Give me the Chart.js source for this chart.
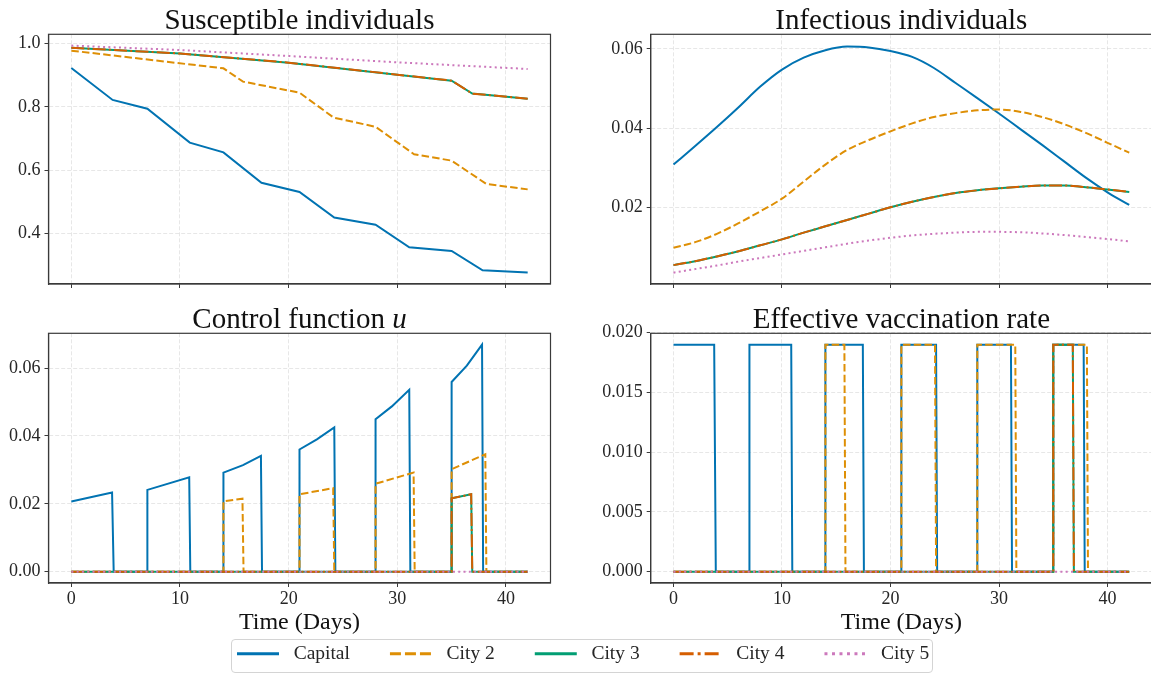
<!DOCTYPE html>
<html><head><meta charset="utf-8">
<script src="https://cdn.jsdelivr.net/npm/chart.js@4.4.1/dist/chart.umd.min.js"></script>
<style>
html,body{margin:0;padding:0;background:#fff;overflow:hidden;width:1151px;height:675px;position:relative;}
canvas{position:absolute;}
#legwrap{position:absolute;left:230.5px;top:639px;width:702.5px;height:33.5px;border:1px solid #d4d4d4;border-radius:4px;overflow:hidden;box-sizing:border-box;background:#fff;}
</style></head><body>
<canvas id="c1" width="560" height="300" style="left:0;top:0"></canvas>
<canvas id="c2" width="590" height="300" style="left:575px;top:0"></canvas>
<canvas id="c3" width="560" height="340" style="left:0;top:300px"></canvas>
<canvas id="c4" width="590" height="340" style="left:575px;top:300px"></canvas>
<div id="legwrap"><canvas id="leg" width="900" height="260" style="left:-34.8px;top:-36.4px"></canvas></div>
<script>
// ---------- data ----------
const SERIES = ['Capital', 'City 2', 'City 3', 'City 4', 'City 5'];
const X_TICKS = [0, 10, 20, 30, 40];

// Susceptible individuals
const sCapitalT = [0, 3.8, 7, 10.9, 14, 17.5, 21, 24.2, 28, 31.1, 35, 37.85, 42];
const sCapitalV = [0.923, 0.822, 0.794, 0.687, 0.656, 0.560, 0.531, 0.450, 0.427, 0.356, 0.344, 0.283, 0.276];
const sCity2T = [0, 14, 15.8, 21, 24.15, 28, 31.55, 35, 38.2, 42];
const sCity2V = [0.978, 0.922, 0.880, 0.845, 0.766, 0.737, 0.650, 0.630, 0.556, 0.539];
const sCity34T = [0, 10, 20, 30, 35, 36.9, 42];
const sCity34V = [0.987, 0.969, 0.940, 0.902, 0.883, 0.842, 0.826];
const sCity5T = [0, 10, 20, 30, 42];
const sCity5V = [0.994, 0.980, 0.961, 0.941, 0.920];
const S_TICKS = [0.4, 0.6, 0.8, 1.0];

// Infectious individuals
const iTime = [0, 2, 4, 6, 8, 10, 12, 14, 16, 18, 20, 22, 24, 26, 28, 30, 32, 34, 36, 38, 40, 42];
const iCapital = [0.0308, 0.0355, 0.0403, 0.0453, 0.0505, 0.0548, 0.0578, 0.0597, 0.0606, 0.0604, 0.0595, 0.0580, 0.0552, 0.0514, 0.0476, 0.0437, 0.0397, 0.0357, 0.0316, 0.0275, 0.0238, 0.0206];
const iCity2 = [0.0098, 0.0112, 0.0133, 0.0160, 0.0190, 0.0222, 0.0265, 0.0308, 0.0345, 0.0370, 0.0392, 0.0412, 0.0428, 0.0438, 0.0445, 0.0447, 0.0441, 0.0428, 0.0410, 0.0388, 0.0363, 0.0338];
const iCity34 = [0.0054, 0.0064, 0.0076, 0.0089, 0.0104, 0.0119, 0.0136, 0.0152, 0.0168, 0.0184, 0.0200, 0.0214, 0.0226, 0.0236, 0.0243, 0.0248, 0.0252, 0.0255, 0.0255, 0.0251, 0.0245, 0.0239];
const iCity5 = [0.0035, 0.0044, 0.0053, 0.0063, 0.0072, 0.0081, 0.0090, 0.0099, 0.0108, 0.0116, 0.0123, 0.0129, 0.0133, 0.0136, 0.0138, 0.0138, 0.0137, 0.0134, 0.0130, 0.0125, 0.0120, 0.0114];
const I_TICKS = [0.02, 0.04, 0.06];

// Control function u
const uCapitalT = [0, 3.75, 3.9, 7, 7, 10.85, 10.95, 14, 14, 15.8, 17.45, 17.55, 21, 21, 22.6, 24.2, 24.3, 28, 28, 29.5, 31.1, 31.2, 35, 35, 36.4, 37.8, 37.9, 42];
const uCapitalV = [0.0207, 0.0233, 0, 0, 0.0241, 0.0278, 0, 0, 0.0292, 0.0314, 0.0341, 0, 0, 0.0360, 0.0390, 0.0425, 0, 0, 0.0449, 0.0487, 0.0536, 0, 0, 0.0559, 0.0607, 0.0669, 0, 0];
const uCity2T = [0, 14, 14, 15.75, 15.85, 21, 21, 24.1, 24.2, 28, 28, 31.5, 31.6, 35, 35, 38.1, 38.2, 42];
const uCity2V = [0, 0, 0.0207, 0.0215, 0, 0, 0.0228, 0.0246, 0, 0, 0.0259, 0.0292, 0, 0, 0.0302, 0.0346, 0, 0];
const uCity34T = [0, 35, 35, 36.8, 36.9, 42];
const uCity34V = [0, 0, 0.0216, 0.0228, 0, 0];
const uCity5T = [0, 42];
const uCity5V = [0, 0];
const U_TICKS = [0, 0.02, 0.04, 0.06];

// Effective vaccination rate
const vCapitalT = [0, 3.75, 3.9, 7, 7, 10.85, 10.95, 14, 14, 17.45, 17.55, 21, 21, 24.2, 24.3, 28, 28, 31.1, 31.2, 35, 35, 37.8, 37.9, 42];
const vCapitalV = [0.019, 0.019, 0, 0, 0.019, 0.019, 0, 0, 0.019, 0.019, 0, 0, 0.019, 0.019, 0, 0, 0.019, 0.019, 0, 0, 0.019, 0.019, 0, 0];
const vCity2T = [0, 14, 14, 15.75, 15.85, 21, 21, 24.1, 24.2, 28, 28, 31.5, 31.6, 35, 35, 38.1, 38.2, 42];
const vCity2V = [0, 0, 0.019, 0.019, 0, 0, 0.019, 0.019, 0, 0, 0.019, 0.019, 0, 0, 0.019, 0.019, 0, 0];
const vCity34T = [0, 35, 35, 36.8, 36.9, 42];
const vCity34V = [0, 0, 0.019, 0.019, 0, 0];
const vCity5T = [0, 42];
const vCity5V = [0, 0];
const V_TICKS = [0, 0.005, 0.010, 0.015, 0.020];

// ---------- styles ----------
const COLORS = ['#0173b2', '#de8f05', '#029e73', '#d55e00', '#cc78bc'];
const DASHES = [[], [7.5, 3.2], [], [13, 3.2, 2, 3.2], [2, 3.3]];
const LEG_DASHES = [[], [11, 4], [], [14, 4, 3, 4], [3, 4.5]];
const FONT = 'Liberation Serif';
const TXT = '#262626';
const GRID = 'rgba(200,200,200,0.55)';
const SPINE = '#3a3a3a';

function mkDatasets(times, values, smooth) {
  return SERIES.map((name, i) => ({
    label: name,
    data: times[i].map((t, k) => ({x: t, y: values[i][k]})),
    borderColor: COLORS[i],
    backgroundColor: COLORS[i],
    borderDash: DASHES[i],
    borderWidth: 2,
    pointRadius: 0,
    fill: false,
    tension: 0,
    cubicInterpolationMode: smooth ? 'monotone' : 'default',
    order: SERIES.length - i
  }));
}

const framePlugin = {
  id: 'frame',
  afterDraw(chart) {
    const a = chart.chartArea, ctx = chart.ctx;
    ctx.save();
    ctx.strokeStyle = SPINE;
    ctx.lineWidth = 1.2;
    ctx.setLineDash([]);
    ctx.strokeRect(a.left, a.top, a.right - a.left, a.bottom - a.top);
    ctx.restore();
  }
};

const titlePlugin = {
  id: 'panelTitle',
  afterDraw(chart, args, opts) {
    const ctx = chart.ctx, a = chart.chartArea;
    ctx.save();
    ctx.fillStyle = '#111';
    ctx.textBaseline = 'alphabetic';
    ctx.textAlign = 'left';
    const fonts = opts.parts.map(p => (p.italic ? 'italic ' : '') + '29px "' + FONT + '"');
    let total = 0;
    opts.parts.forEach((p, k) => { ctx.font = fonts[k]; total += ctx.measureText(p.text).width; });
    let x = (a.left + a.right) / 2 - total / 2;
    const y = a.top - 5;
    opts.parts.forEach((p, k) => { ctx.font = fonts[k]; ctx.fillText(p.text, x, y); x += ctx.measureText(p.text).width; });
    ctx.restore();
  }
};

function makePanel(id, c) {
  new Chart(document.getElementById(id), {
    type: 'line',
    data: {datasets: mkDatasets(c.times, c.values, c.smooth)},
    options: {
      responsive: false,
      animation: false,
      events: [],
      layout: {padding: {top: c.padTop, right: c.padRight, left: 0, bottom: 0}},
      plugins: {
        legend: {display: false},
        tooltip: {enabled: false},
        title: {display: false},
        panelTitle: {parts: c.title}
      },
      scales: {
        x: {
          type: 'linear', min: -2.1, max: 44.1,
          afterBuildTicks: s => { s.ticks = X_TICKS.map(v => ({value: v})); },
          afterFit: s => { s.height = c.xHeight; },
          grid: {color: GRID, lineWidth: 0.8, tickColor: SPINE, tickLength: 4, tickWidth: 1, tickBorderDash: []},
          border: {display: true, color: SPINE, width: 1.2, dash: [4, 2]},
          ticks: {display: c.showX, padding: 1.5, maxRotation: 0, color: TXT, font: {family: FONT, size: 18}, callback: v => String(v)},
          title: {display: c.showX, text: 'Time (Days)', color: '#111', font: {family: FONT, size: 24}, padding: {top: 0, bottom: 2.6}}
        },
        y: {
          type: 'linear', min: c.yMin, max: c.yMax,
          afterBuildTicks: s => { s.ticks = c.yTicks.map(v => ({value: v})); },
          afterFit: s => { s.width = c.yWidth; },
          grid: {color: GRID, lineWidth: 0.8, tickColor: SPINE, tickLength: 4, tickWidth: 1, tickBorderDash: []},
          border: {display: true, color: SPINE, width: 1.2, dash: [4, 2]},
          ticks: {padding: 4, color: TXT, font: {family: FONT, size: 18}, callback: v => Number(v).toFixed(c.digits)}
        }
      }
    },
    plugins: [framePlugin, titlePlugin]
  });
}

makePanel('c1', {
  times: [sCapitalT, sCity2T, sCity34T, sCity34T, sCity5T],
  values: [sCapitalV, sCity2V, sCity34V, sCity34V, sCity5V],
  yMin: 0.2396, yMax: 1.0297, yTicks: S_TICKS, digits: 1,
  yWidth: 48.5, padTop: 34.3, padRight: 9.5, xHeight: 16, showX: false,
  title: [{text: 'Susceptible individuals'}]
});
makePanel('c2', {
  times: [iTime, iTime, iTime, iTime, iTime],
  values: [iCapital, iCity2, iCity34, iCity34, iCity5], smooth: true,
  yMin: 0.00063, yMax: 0.06371, yTicks: I_TICKS, digits: 2,
  yWidth: 75.7, padTop: 34.3, padRight: 13, xHeight: 16, showX: false,
  title: [{text: 'Infectious individuals'}]
});
makePanel('c3', {
  times: [uCapitalT, uCity2T, uCity34T, uCity34T, uCity5T],
  values: [uCapitalV, uCity2V, uCity34V, uCity34V, uCity5V],
  yMin: -0.003345, yMax: 0.070245, yTicks: U_TICKS, digits: 2,
  yWidth: 48.5, padTop: 33.3, padRight: 9.5, xHeight: 57, showX: true,
  title: [{text: 'Control function '}, {text: 'u', italic: true}]
});
makePanel('c4', {
  times: [vCapitalT, vCity2T, vCity34T, vCity34T, vCity5T],
  values: [vCapitalV, vCity2V, vCity34V, vCity34V, vCity5V],
  yMin: -0.00095, yMax: 0.01995, yTicks: V_TICKS, digits: 3,
  yWidth: 75.7, padTop: 33.3, padRight: 13, xHeight: 57, showX: true,
  title: [{text: 'Effective vaccination rate'}]
});

// legend
new Chart(document.getElementById('leg'), {
  type: 'line',
  data: {datasets: SERIES.map((name, i) => ({label: name, data: [], borderColor: COLORS[i]}))},
  options: {
    responsive: false, animation: false, events: [],
    layout: {padding: 0},
    scales: {x: {display: false}, y: {display: false}},
    plugins: {
      tooltip: {enabled: false},
      legend: {
        display: true, position: 'top', align: 'start',
        labels: {
          usePointStyle: true, pointStyleWidth: 42, padding: 40, color: TXT,
          font: {family: FONT, size: 19.5},
          generateLabels: () => SERIES.map((name, i) => ({
            text: ' ' + name, strokeStyle: COLORS[i], fillStyle: COLORS[i], fontColor: TXT,
            lineWidth: 3, lineDash: LEG_DASHES[i], lineCap: 'butt', pointStyle: 'line',
            hidden: false, datasetIndex: i
          }))
        }
      }
    }
  }
});
</script>
</body></html>
